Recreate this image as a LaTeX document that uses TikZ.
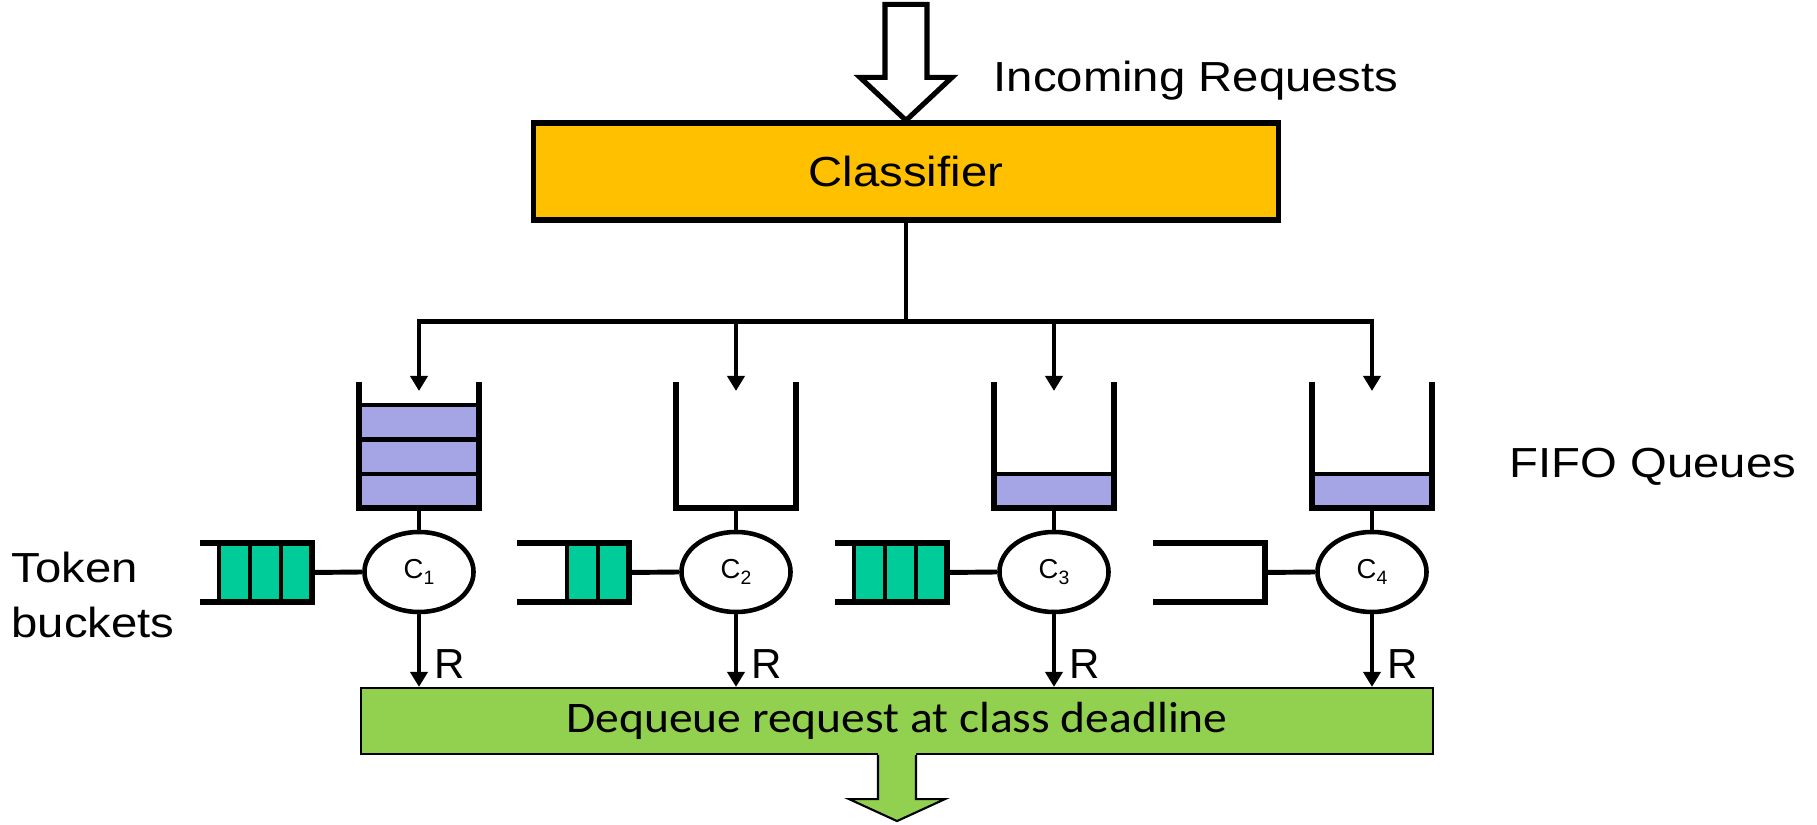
\documentclass[tikz,border=0pt]{standalone}
\usepackage{fontspec}
\setmainfont{Liberation Sans}
\newfontfamily\dqfont{Carlito}
\usetikzlibrary{arrows.meta,calc,shapes.geometric}

\definecolor{clsfill}{RGB}{255,192,0}
\definecolor{qfill}{RGB}{165,165,230}
\definecolor{tokfill}{RGB}{0,204,153}
\definecolor{dqfill}{RGB}{146,208,80}

\newcommand\lblfont{\fontsize{11.95}{15.4}\selectfont}
\newcommand\srvfont{\fontsize{7.8}{9}\selectfont}
\newcommand\subfont{\fontsize{5.5}{6.5}\selectfont}
\newcommand\wide[1]{\scalebox{1.125}[1]{#1}}

\tikzset{
  link/.style={line width=1.4pt},
  arr/.style={link, -{Triangle[length=0.15cm,width=0.17cm]}},
  wall/.style={line width=1.45pt, line join=miter},
  cell/.style={line width=1.25pt},
  slot/.style={rectangle, inner sep=0pt, outer sep=0pt},
  server/.style={ellipse, draw, line width=1.3pt, fill=white,
    minimum width=1.09cm, minimum height=0.8cm, inner sep=0pt, font=\srvfont},
  lbl/.style={inner sep=0pt, font=\lblfont},
}

\begin{document}
\begin{tikzpicture}[x=0.01cm, y=-0.01cm]
\useasboundingbox (0,0) rectangle (1817,825);

% classifier and the incoming hollow arrow
\node[draw, line width=1.45pt, fill=clsfill, minimum width=7.44cm,
  minimum height=0.97cm, inner sep=0pt, font=\lblfont] (cls) at (906,171.5) {\wide{Classifier}};
\draw[line width=1.45pt, line join=miter, fill=white]
  (cls.north) -- ++(46,-43) -- ++(-25,0) -- ++(0,-73) -- ++(-42,0)
  -- ++(0,73) -- ++(-25,0) -- cycle;
\node[lbl, anchor=base west] (inc) at (993,92) {\wide{Incoming Requests}};

% dequeue stage
\node[draw, line width=0.6pt, fill=dqfill, minimum width=10.72cm,
  minimum height=0.66cm, inner sep=0pt,
  font=\dqfont\fontsize{12.4}{14}\selectfont] (dq) at (897,721)
  {\scalebox{1.09}[1]{Dequeue request at class deadline}};
\fill[dqfill] ($(dq.south)+(-19,-3)$) -- ++(0,47) -- ++(-29,0) -- ++(48,22)
  -- ++(48,-22) -- ++(-29,0) -- ++(0,-47) -- cycle;
\draw[line width=0.6pt, line join=miter] ($(dq.south)+(-19,0)$) -- ++(0,44) -- ++(-29,0)
  -- ++(48,22) -- ++(48,-22) -- ++(-29,0) -- ++(0,-44);

% per-class queue, token bucket and scheduler
\foreach \i/\cx/\nq/\nt in {1/419/3/3, 2/736/0/2, 3/1054/1/3, 4/1372/1/0} {
  \node[slot, minimum width=1.2cm, minimum height=1.26cm] (q\i) at (\cx,445) {};
  \ifnum\nq>0
    \foreach \k in {1,...,\nq} {
      \draw[cell, fill=qfill] ($(q\i.south west)+(0,{-(\k-1)*34.3})$) rectangle ++(120,-34.3);
    }
  \fi
  \draw[wall] (q\i.north west) -- (q\i.south west) -- (q\i.south east) -- (q\i.north east);

  \node[server] (c\i) at (\cx,572) {C\raisebox{-1.5pt}{\subfont\i}};
  \draw[link] (q\i.south) -- (c\i.north);

  \node[slot, minimum width=1.12cm, minimum height=0.59cm] (b\i) at (\cx-163,572.5) {};
  \ifnum\nt>0
    \foreach \k in {1,...,\nt} {
      \draw[cell, fill=tokfill] ($(b\i.south east)+({-31*\k},0)$) rectangle ++(31,-59);
    }
  \fi
  \draw[wall] (b\i.north west) -- (b\i.north east) -- (b\i.south east) -- (b\i.south west);
  \draw[link] (b\i.east) -- (c\i.west);

  \draw[arr] (c\i.south) -- (c\i.south |- dq.north);
  \node[lbl] (r\i) at ($(c\i.south)+(31,50)$) {R};
}

% distribution bus from the classifier to the queues
\draw[link] (cls.south) -- ++(0,99) coordinate (hub);
\draw[link, line cap=rect] (q1.north |- hub) -- (q4.north |- hub);
\foreach \i in {1,...,4} {
  \draw[arr] (q\i.north |- hub) -- ($(q\i.north)+(0,9)$);
}

% side labels
\node[lbl, anchor=base west] (fifo) at (1509,478) {\wide{FIFO Queues}};
\node[lbl, anchor=west, align=left] (tb) at (11,595) {\wide{Token}\\\wide{buckets}};
\end{tikzpicture}
\end{document}
